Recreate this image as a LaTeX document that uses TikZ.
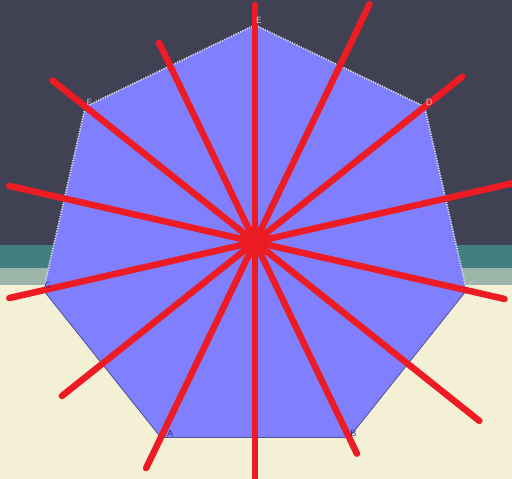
\documentclass[tikz,border=0pt]{standalone}
\usetikzlibrary{calc}
\definecolor{slate}{RGB}{64,65,82}
\definecolor{tealband}{RGB}{66,128,128}
\definecolor{paleband}{RGB}{155,182,168}
\definecolor{cream}{RGB}{243,240,214}
\definecolor{hepfill}{RGB}{128,128,255}
\definecolor{redline}{RGB}{237,28,36}
\definecolor{edgegray}{RGB}{225,225,230}
\definecolor{edgeblue}{RGB}{80,80,150}
\definecolor{lblblue}{RGB}{40,40,140}
\definecolor{lblgray}{RGB}{215,215,215}

\begin{document}
\begin{tikzpicture}[x=1pt, y=1pt,
    ray/.style={draw=redline, line width=6.5pt, line cap=round},
    edgeup/.style={draw=edgegray, dash pattern=on 1.2pt off 1.3pt, line width=1.6pt},
    edgedown/.style={draw=edgeblue, line width=0.8pt},
    lbl/.style={font=\sffamily\small, anchor=south west, inner sep=1pt}
  ]
  % background bands
  \fill[cream] (0,0) rectangle (512,194);
  \fill[paleband] (0,194) rectangle (512,211);
  \fill[tealband] (0,211) rectangle (512,234);
  \fill[slate] (0,234) rectangle (512,479);
  \useasboundingbox (0,0) rectangle (512,479);

  % heptagon
  \coordinate (c) at (255,237);
  \foreach \n/\a in {E/90, D/38.57, C/-12.86, B/-64.29, A/-115.71, G/-167.14, F/141.43}
    \coordinate (\n) at ($(c)+(\a:217)$);
  \fill[hepfill] (A) -- (B) -- (C) -- (D) -- (E) -- (F) -- (G) -- cycle;
  \draw[edgedown] (C) -- (B) -- (A) -- (G);
  \draw[edgeup] (G) -- (F) -- (E) -- (D) -- (C);

  % red rays through the centre
  \foreach \k/\l in {0/237, 1/221, 2/259, 3/252, 4/252, 5/247, 6/251,
                     7/237, 8/235, 9/287, 10/256, 11/263, 12/265, 13/264}
    \draw[ray] (c) -- ++({90+\k*360/14}:\l);
  \fill[redline] (c) circle (11);

  % vertex labels
  \node[lbl, text=lblblue, xshift=5pt] (labA) at (A) {A};
  \node[lbl, text=lblblue] (labB) at (B) {B};
  \node[lbl, text=lblgray] (labC) at (C) {C};
  \node[lbl, text=lblgray] (labD) at (D) {D};
  \node[lbl, text=lblgray] (labE) at (E) {E};
  \node[lbl, text=lblgray] (labF) at (F) {F};
  \node[lbl, text=lblblue] (labG) at (G) {G};
\end{tikzpicture}
\end{document}
